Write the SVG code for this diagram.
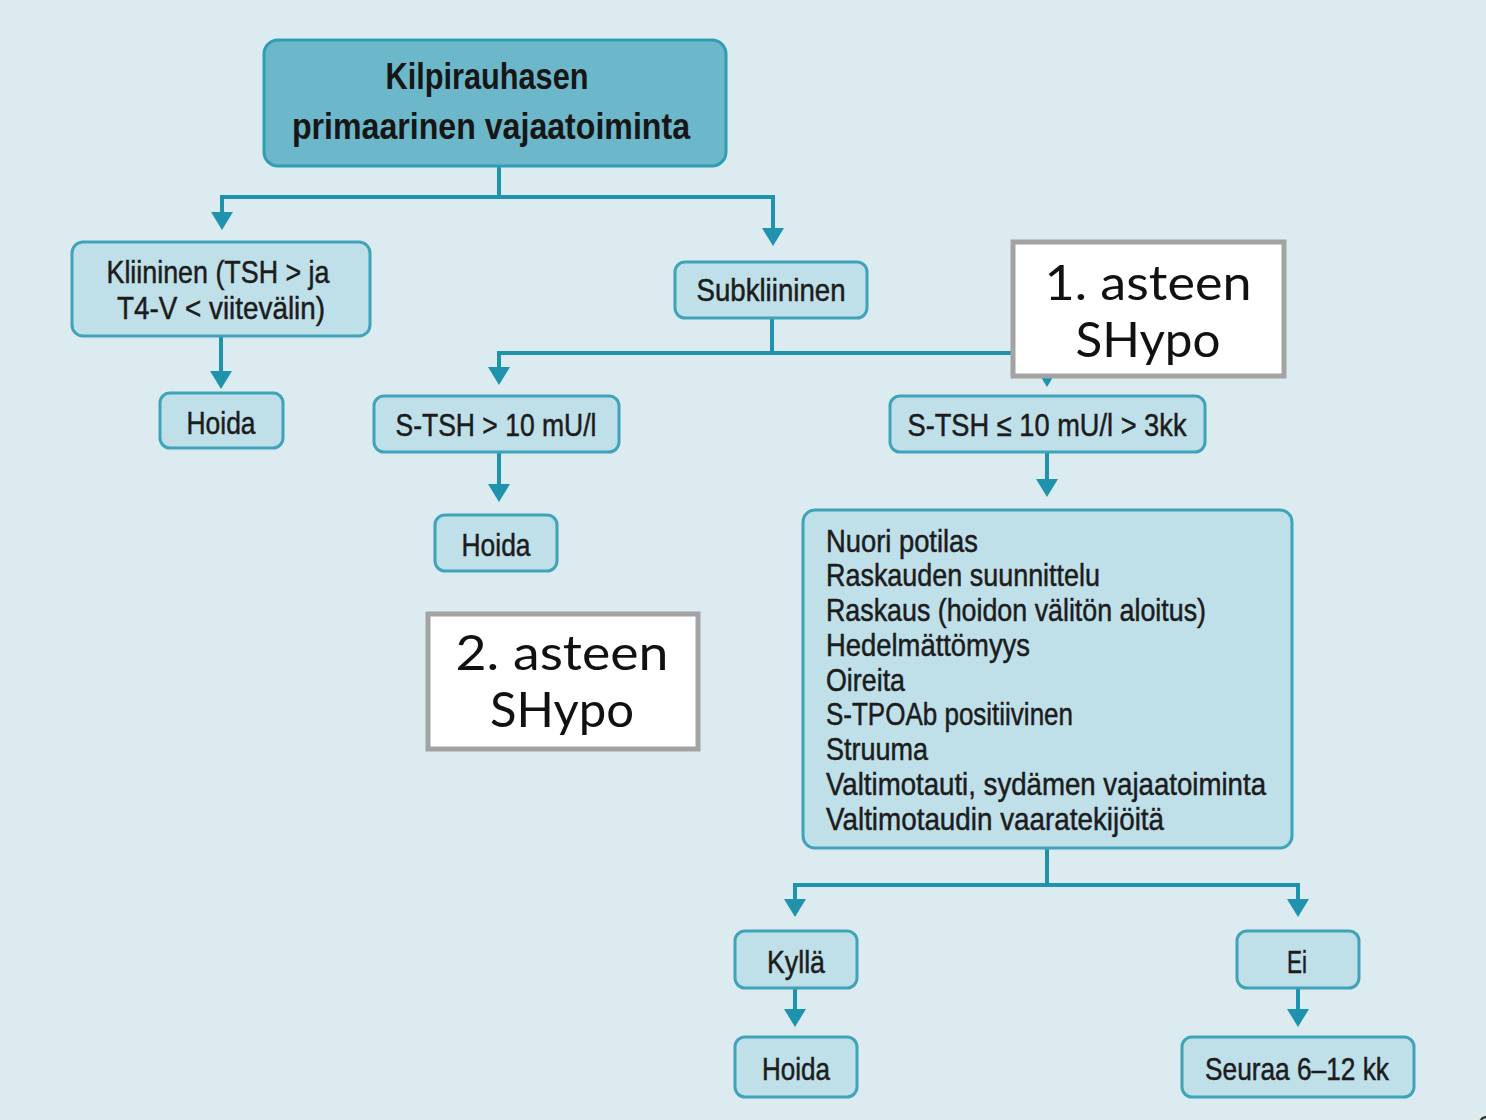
<svg xmlns="http://www.w3.org/2000/svg" width="1486" height="1120" viewBox="0 0 1486 1120">
<defs>
<style>
.bg{fill:#dcebf0}
.title{fill:#6cb7ca;stroke:#2f9db3;stroke-width:3}
.node{fill:#bfdfe9;stroke:#3fa3b9;stroke-width:3}
.t{font-family:"Liberation Sans",Arial,sans-serif;fill:#1c1c1c;stroke:#1c1c1c;stroke-width:0.5;font-size:32px}
.tb{font-family:"Liberation Sans",Arial,sans-serif;fill:#161616;font-size:37px;font-weight:bold}
.c{text-anchor:middle}
.conn{fill:none;stroke:#1f93ad;stroke-width:4}
.ov{fill:#ffffff;stroke:#a3a3a3;stroke-width:5}
.ot{font-family:"Lato","Open Sans",sans-serif;font-size:48px;fill:#111;text-anchor:middle}
</style>
<marker id="ah" markerUnits="userSpaceOnUse" markerWidth="20" markerHeight="24" refX="2" refY="11" orient="auto">
<path d="M0,0 L18,11 L0,22 Z" fill="#1f93ad"/>
</marker>
</defs>
<rect class="bg" x="0" y="0" width="1486" height="1120"/>

<g id="connectors">
<path class="conn" d="M499,166 V197"/>
<path class="conn" d="M499,197 H222 V214" marker-end="url(#ah)"/>
<path class="conn" d="M499,197 H773 V230" marker-end="url(#ah)"/>
<path class="conn" d="M221,336 V373" marker-end="url(#ah)"/>
<path class="conn" d="M772,318 V353"/>
<path class="conn" d="M772,353 H499 V369" marker-end="url(#ah)"/>
<path class="conn" d="M772,353 H1047 V371" marker-end="url(#ah)"/>
<path class="conn" d="M499,452 V486" marker-end="url(#ah)"/>
<path class="conn" d="M1047,452 V481" marker-end="url(#ah)"/>
<path class="conn" d="M1047,848 V885"/>
<path class="conn" d="M1047,885 H795 V901" marker-end="url(#ah)"/>
<path class="conn" d="M1047,885 H1298 V901" marker-end="url(#ah)"/>
<path class="conn" d="M795,988 V1011" marker-end="url(#ah)"/>
<path class="conn" d="M1298,988 V1011" marker-end="url(#ah)"/>
</g>

<g id="n-title">
<rect class="title" x="264" y="40" width="462" height="126" rx="14"/>
<text class="tb c" x="487" y="89" textLength="203" lengthAdjust="spacingAndGlyphs">Kilpirauhasen</text>
<text class="tb c" x="491" y="139" textLength="398" lengthAdjust="spacingAndGlyphs">primaarinen vajaatoiminta</text>
</g>

<g id="n-kliininen">
<rect class="node" x="72" y="242" width="298" height="94" rx="11"/>
<text class="t c" x="218" y="283" textLength="223" lengthAdjust="spacingAndGlyphs">Kliininen (TSH &gt; ja</text>
<text class="t c" x="221" y="319" textLength="208" lengthAdjust="spacingAndGlyphs">T4-V &lt; viitevälin)</text>
</g>

<g id="n-hoida1">
<rect class="node" x="160" y="393" width="123" height="55" rx="10"/>
<text class="t c" x="221" y="434" textLength="69" lengthAdjust="spacingAndGlyphs">Hoida</text>
</g>

<g id="n-subkliininen">
<rect class="node" x="675" y="262" width="192" height="56" rx="10"/>
<text class="t c" x="771" y="301" textLength="149" lengthAdjust="spacingAndGlyphs">Subkliininen</text>
</g>

<g id="n-stsh-gt">
<rect class="node" x="374" y="396" width="245" height="56" rx="10"/>
<text class="t c" x="496" y="436" textLength="201" lengthAdjust="spacingAndGlyphs">S-TSH &gt; 10 mU/l</text>
</g>

<g id="n-hoida2">
<rect class="node" x="435" y="515" width="122" height="56" rx="10"/>
<text class="t c" x="496" y="556" textLength="69" lengthAdjust="spacingAndGlyphs">Hoida</text>
</g>

<g id="n-stsh-le">
<rect class="node" x="890" y="396" width="315" height="56" rx="10"/>
<text class="t c" x="1047" y="436" textLength="279" lengthAdjust="spacingAndGlyphs">S-TSH ≤ 10 mU/l &gt; 3kk</text>
</g>

<g id="n-criteria">
<rect class="node" x="803" y="510" width="489" height="338" rx="12"/>
<text class="t" x="826" y="552" textLength="152" lengthAdjust="spacingAndGlyphs">Nuori potilas</text>
<text class="t" x="826" y="586" textLength="274" lengthAdjust="spacingAndGlyphs">Raskauden suunnittelu</text>
<text class="t" x="826" y="621" textLength="380" lengthAdjust="spacingAndGlyphs">Raskaus (hoidon välitön aloitus)</text>
<text class="t" x="826" y="656" textLength="204" lengthAdjust="spacingAndGlyphs">Hedelmättömyys</text>
<text class="t" x="826" y="691" textLength="79" lengthAdjust="spacingAndGlyphs">Oireita</text>
<text class="t" x="826" y="725" textLength="247" lengthAdjust="spacingAndGlyphs">S-TPOAb positiivinen</text>
<text class="t" x="826" y="760" textLength="102" lengthAdjust="spacingAndGlyphs">Struuma</text>
<text class="t" x="826" y="795" textLength="440" lengthAdjust="spacingAndGlyphs">Valtimotauti, sydämen vajaatoiminta</text>
<text class="t" x="826" y="830" textLength="338" lengthAdjust="spacingAndGlyphs">Valtimotaudin vaaratekijöitä</text>
</g>

<g id="n-kylla">
<rect class="node" x="735" y="931" width="122" height="57" rx="10"/>
<text class="t c" x="796" y="973" textLength="58" lengthAdjust="spacingAndGlyphs">Kyllä</text>
</g>

<g id="n-ei">
<rect class="node" x="1237" y="931" width="122" height="57" rx="10"/>
<text class="t c" x="1297" y="973" textLength="20" lengthAdjust="spacingAndGlyphs">Ei</text>
</g>

<g id="n-hoida3">
<rect class="node" x="735" y="1037" width="122" height="60" rx="10"/>
<text class="t c" x="796" y="1080" textLength="68" lengthAdjust="spacingAndGlyphs">Hoida</text>
</g>

<g id="n-seuraa">
<rect class="node" x="1182" y="1037" width="232" height="60" rx="10"/>
<text class="t c" x="1297" y="1080" textLength="184" lengthAdjust="spacingAndGlyphs">Seuraa 6–12 kk</text>
</g>

<g id="overlay-1">
<rect class="ov" x="1013" y="242" width="271" height="134"/>
<text class="ot" x="1148" y="300" textLength="207" lengthAdjust="spacingAndGlyphs">1. asteen</text>
<text class="ot" x="1148" y="357" textLength="145" lengthAdjust="spacingAndGlyphs">SHypo</text>
</g>

<g id="overlay-2">
<rect class="ov" x="428" y="614" width="270" height="135"/>
<text class="ot" x="562" y="670" textLength="213" lengthAdjust="spacingAndGlyphs">2. asteen</text>
<text class="ot" x="562" y="727" textLength="144" lengthAdjust="spacingAndGlyphs">SHypo</text>
</g>

<text x="1477" y="1136" font-family="Liberation Sans,sans-serif" font-size="30" fill="#333">6</text>
</svg>
